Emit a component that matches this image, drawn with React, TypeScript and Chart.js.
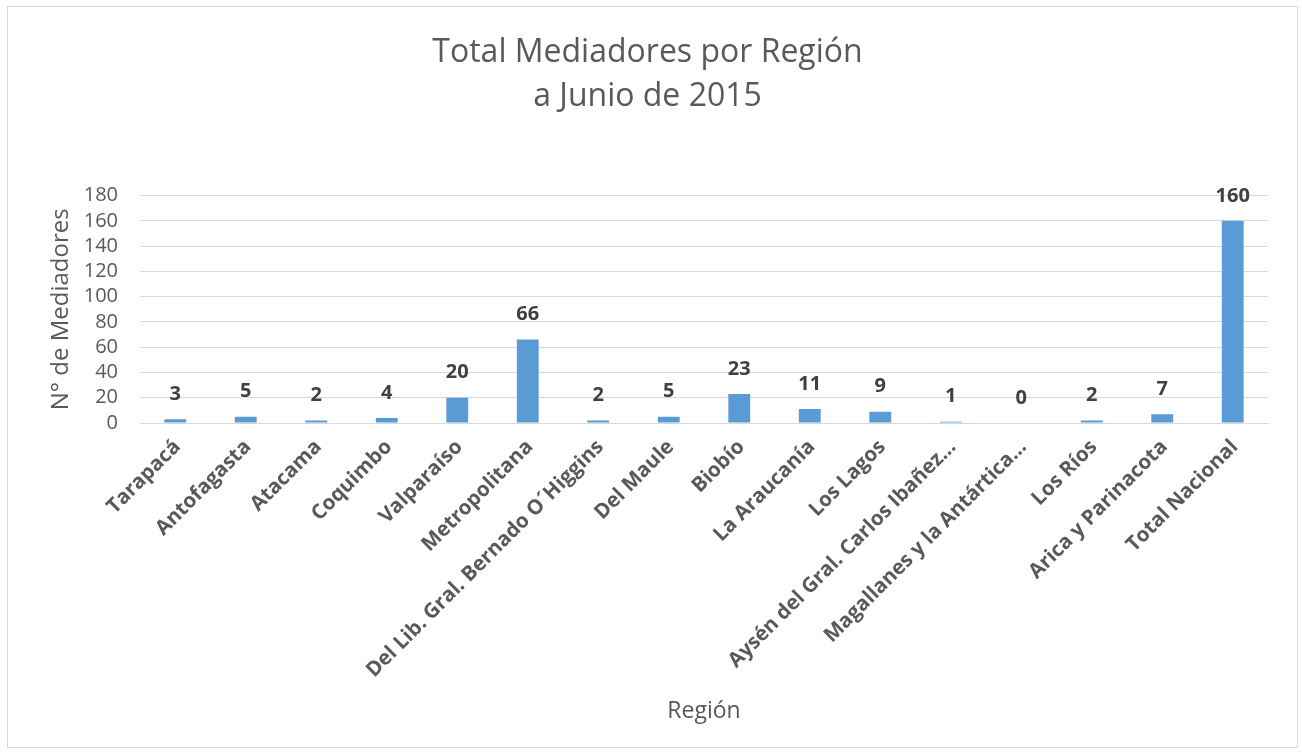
import React, { useEffect, useRef } from "react";
import { Chart, registerables } from "chart.js";

Chart.register(...registerables);

const categories = [
  "Tarapacá",
  "Antofagasta",
  "Atacama",
  "Coquimbo",
  "Valparaíso",
  "Metropolitana",
  "Del Lib. Gral. Bernado O´Higgins",
  "Del Maule",
  "Biobío",
  "La Araucanía",
  "Los Lagos",
  "Aysén del Gral. Carlos Ibañez…",
  "Magallanes y la Antártica…",
  "Los Ríos",
  "Arica y Parinacota",
  "Total Nacional",
];
const mediadores = [3, 5, 2, 4, 20, 66, 2, 5, 23, 11, 9, 1, 0, 2, 7, 160];
const titleLines = ["Total Mediadores por Región", "a Junio de 2015"];
const yTitle = "N° de Mediadores";
const xTitle = "Región";

const FONT = "'Open Sans', sans-serif";

const dataLabelPlugin = {
  id: "dataLabels",
  afterDatasetsDraw(chart: any) {
    const ctx = chart.ctx;
    const meta = chart.getDatasetMeta(0);
    ctx.save();
    ctx.font = `bold 20px ${FONT}`;
    ctx.fillStyle = "#404040";
    ctx.textAlign = "center";
    ctx.textBaseline = "middle";
    meta.data.forEach((bar: any, i: number) => {
      ctx.fillText(String(mediadores[i]), bar.x, bar.y - 25);
    });
    ctx.restore();
  },
};

export default function App() {
  const ref = useRef<HTMLCanvasElement>(null);
  useEffect(() => {
    if (!ref.current) return;
    const chart = new Chart(ref.current, {
      type: "bar",
      data: {
        labels: categories,
        datasets: [
          {
            data: mediadores,
            backgroundColor: "#5b9bd5",
            barPercentage: 0.62,
            categoryPercentage: 0.5,
          },
        ],
      },
      plugins: [dataLabelPlugin],
      options: {
        animation: false,
        responsive: false,
        maintainAspectRatio: false,
        layout: { padding: { left: 27, right: 34, top: 0, bottom: 20 } },
        plugins: {
          legend: { display: false },
          tooltip: { enabled: false },
          title: {
            display: true,
            text: titleLines,
            color: "#595959",
            font: { family: FONT, size: 32, weight: "normal", lineHeight: 1.4 },
            padding: { top: 30, bottom: 76 },
          },
        },
        scales: {
          x: {
            grid: { display: false, drawTicks: false },
            border: { display: true, color: "#d9d9d9", width: 1 },
            ticks: {
              color: "#595959",
              font: { family: FONT, size: 20.5, weight: "bold" },
              minRotation: 45,
              maxRotation: 45,
              autoSkip: false,
              padding: 12,
              labelOffset: 2,
            },
            title: {
              display: true,
              text: xTitle,
              color: "#595959",
              font: { family: FONT, size: 23, weight: "normal" },
              padding: { top: 0, bottom: 8 },
            },
            afterFit(scale: any) {
              scale.height = 310;
            },
          },
          y: {
            min: 0,
            max: 180,
            grid: { color: "#d9d9d9", lineWidth: 1, drawTicks: false },
            border: { display: false },
            ticks: {
              stepSize: 20,
              autoSkip: false,
              color: "#595959",
              font: { family: FONT, size: 20 },
              padding: 22,
            },
            title: {
              display: true,
              text: yTitle,
              color: "#595959",
              font: { family: FONT, size: 24, weight: "normal" },
              padding: { top: 20, bottom: 0 },
            },
            afterFit(scale: any) {
              scale.width = 113;
            },
          },
        },
      },
    });
    return () => chart.destroy();
  }, []);

  return (
    <div style={{ position: "fixed", left: 0, top: 0, width: 1302, height: 753, background: "#fff" }}>
      <canvas ref={ref} width={1302} height={753} style={{ position: "absolute", left: 0, top: 0, width: 1302, height: 753 }} />
      <div
        style={{
          position: "absolute",
          left: 7,
          top: 6,
          width: 1291,
          height: 742,
          boxSizing: "border-box",
          border: "1px solid #d9d9d9",
          pointerEvents: "none",
        }}
      />
    </div>
  );
}
